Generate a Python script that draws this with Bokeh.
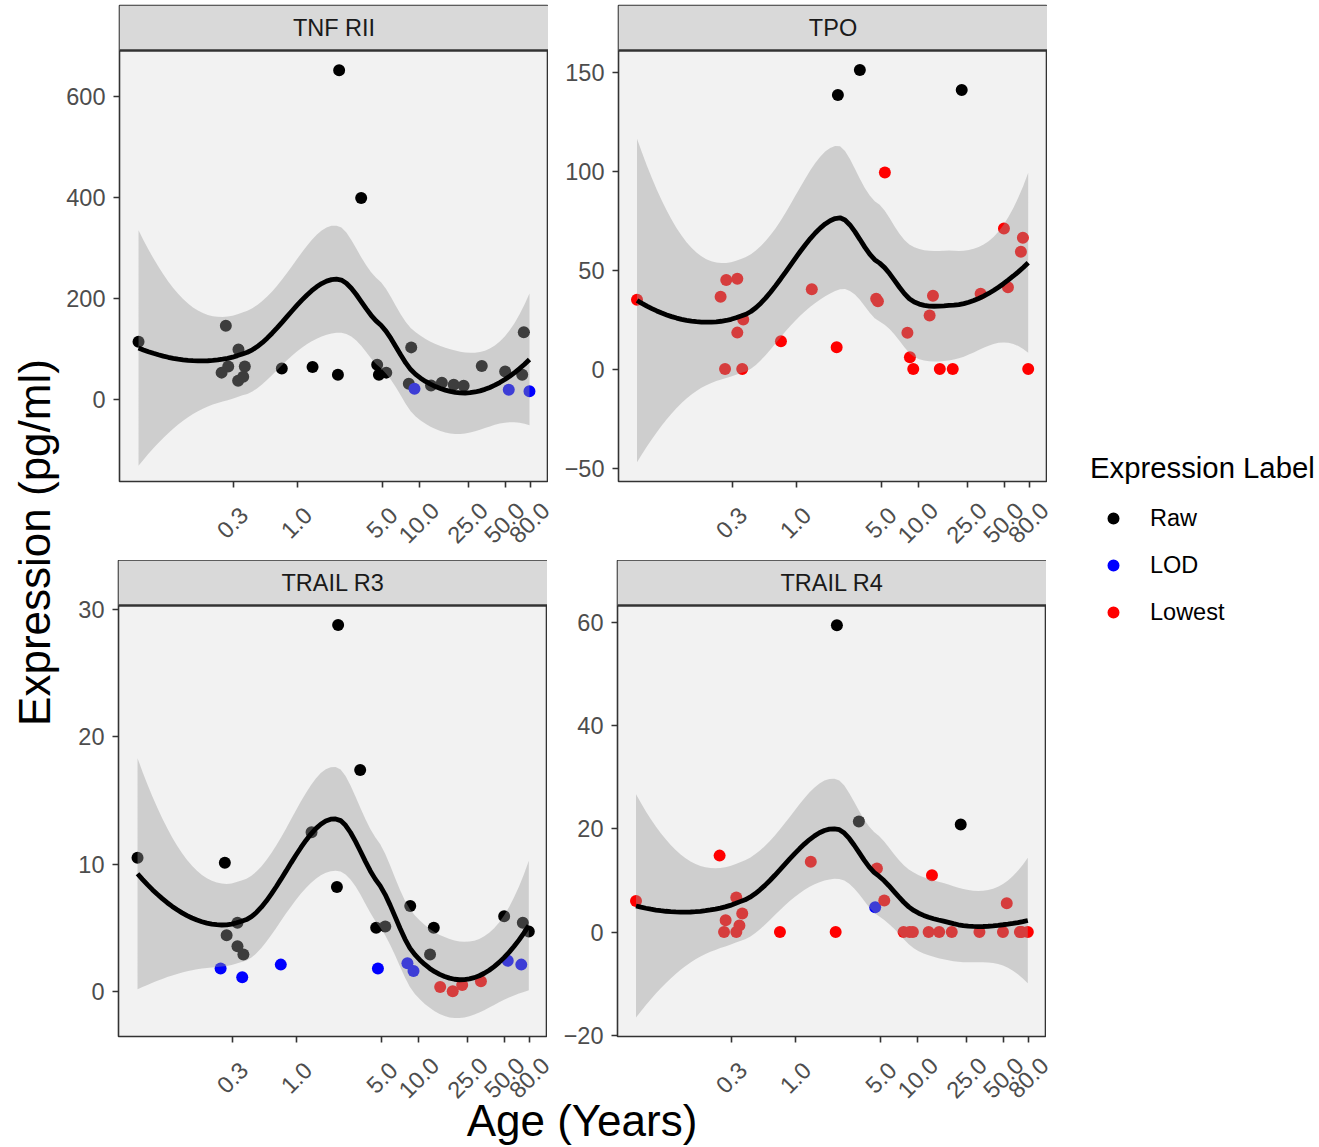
import math
import numpy as np
from bokeh.plotting import figure
from bokeh.models import (Range1d, FixedTicker, CustomJSTickFormatter, ColumnDataSource,
                          Legend, LegendItem, LogScale, LinearScale, Span)
from bokeh.layouts import row, column
from bokeh.transform import factor_cmap
from bokeh.core.properties import value
from bokeh.embed import file_html
from bokeh.resources import INLINE

FONT = "Liberation Sans"
LABELS = ["Raw", "LOD", "Lowest"]
LABEL_COLORS = ["#000000", "#0000FF", "#FF0000"]
X_TICKS = [0.3, 1.0, 5.0, 10.0, 25.0, 50.0, 80.0]
PANEL_TITLES = ["TNF RII", "TPO", "TRAIL R3", "TRAIL R4"]

# ---- TNF RII ----
tnf_age = [0.0505, 0.261, 0.331, 0.273, 0.241, 0.373, 0.329, 0.362, 0.748, 1.334,
           2.20, 2.15, 3.33, 4.50, 4.65, 5.34, 8.54, 8.16, 9.08, 12.4,
           15.2, 19.0, 22.9, 32.2, 50.0, 53.5, 71.0, 68.9, 79.0]
tnf_val = [115, 147, 100, 66, 54, 66, 38, 46, 62, 65,
           653, 50, 400, 69.5, 50, 54, 104, 32, 22, 28.5,
           34, 30, 28, 67, 56, 20, 134, 50, 17]
tnf_lab = ["Raw"] * 18 + ["LOD"] + ["Raw"] * 6 + ["LOD"] + ["Raw", "Raw", "LOD"]

# ---- TPO ----
tpo_age = [0.050, 0.268, 0.330, 0.241, 0.369, 0.330, 0.262, 0.362, 0.75, 1.34,
           2.19, 2.14, 3.31, 5.3, 4.5, 4.65, 8.1, 8.49, 9.04, 12.3,
           13.1, 14.9, 19.0, 22.5, 32.1, 49.8, 53.7, 71.1, 68.5, 78.6]
tpo_val = [35, 45, 45.6, 36.5, 25, 18.4, 0, 0, 14, 40.3,
           138.4, 11, 151, 99.3, 35.5, 34.3, 18.3, 6, 0, 27,
           37, 0, 0, 141, 38, 71, 41.3, 66.3, 59.2, 0]
tpo_lab = ["Lowest"] * 10 + ["Raw", "Lowest", "Raw"] + ["Lowest"] * 10 + ["Raw"] + ["Lowest"] * 6

# ---- TRAIL R3 ----
r3_age = [0.0505, 0.261, 0.331, 0.270, 0.331, 0.370, 0.241, 0.362, 0.748, 1.334,
          2.20, 2.15, 3.33, 4.50, 5.34, 4.65, 8.54, 8.1, 9.08, 13.3,
          12.4, 15.0, 19.0, 22.7, 32.3, 50.0, 53.5, 71.0, 69.0, 79.5]
r3_val = [10.5, 10.1, 5.4, 4.4, 3.55, 2.9, 1.8, 1.1, 2.1, 12.5,
          28.8, 8.2, 17.4, 5.0, 5.1, 1.8, 6.7, 2.2, 1.6, 5.0,
          2.9, 0.35, 0.0, 0.5, 0.8, 5.9, 2.4, 5.4, 2.1, 4.7]
r3_lab = ["Raw"] * 6 + ["LOD"] * 3 + ["Raw"] * 6 + ["LOD", "Raw", "LOD", "LOD", "Raw",
          "Raw", "Lowest", "Lowest", "Lowest", "Lowest", "Raw", "LOD", "Raw", "LOD", "Raw"]

# ---- TRAIL R4 ----
r4_age = [0.050, 0.241, 0.330, 0.270, 0.369, 0.350, 0.262, 0.330, 0.75, 1.34,
          2.19, 2.14, 3.31, 4.65, 4.5, 5.34, 7.68, 8.6, 9.15, 13.1,
          12.3, 15.0, 19.0, 22.5, 32.0, 49.8, 53.5, 68.5, 71.0, 79.5]
r4_val = [6.0, 14.8, 6.7, 2.3, 3.6, 1.3, 0, 0, 0, 13.6,
          59.4, 0, 21.4, 12.3, 4.8, 6.1, 0, 0, 0, 11.0,
          0, 0, 0, 20.8, 0, 0, 5.6, 0, 0, 0]
r4_lab = ["Lowest"] * 10 + ["Raw", "Lowest", "Raw", "Lowest", "LOD"] + ["Lowest"] * 8 + ["Raw"] + ["Lowest"] * 6

# axis limits
X_LIM = (0.0353, 113.0)
Y_LIMS = [(-161.6, 691.9), (-56.8, 160.9), (-3.55, 30.33), (-20.2, 63.2)]
Y_TICKS = [[0, 200, 400, 600], [-50, 0, 50, 100, 150], [0, 10, 20, 30], [-20, 0, 20, 40, 60]]

# layout geometry (pixels)
PANEL_W = 429
PANEL_H = 431
STRIP_H = 45
LEFT_COL = 63
BORDER_L = [55, 70]
ROW_W = 997  # width of the tick-label rows


def loess_band(age, val, n_out=80, span=0.75, cell=0.2):
    """loess (degree 2, span 0.75, kd-tree vertices + cubic Hermite interpolation,
    as R's default surface) on log10(age), with the 95% confidence band."""
    x = np.log10(np.asarray(age, float))
    y = np.asarray(val, float)
    n = len(x)
    q = int(math.floor(n * span))
    fc = int(math.floor(n * span * cell))
    xsrt = np.sort(x)
    lo, hi = xsrt[0], xsrt[-1]
    mu = 0.005 * (hi - lo)
    verts = [lo - mu, hi + mu]
    stack = [(0, n - 1, lo - mu, hi + mu)]
    while stack:
        l, u, vlo, vhi = stack.pop()
        if u - l + 1 <= fc:
            continue
        m = (l + u) // 2
        off = 0
        while l <= m + off < u:
            if xsrt[m + off] == xsrt[m + off + 1]:
                off = -off
                if off >= 0:
                    off += 1
            else:
                m = m + off
                break
        xi = xsrt[m]
        if xi == vlo or xi == vhi:
            continue
        verts.append(xi)
        stack.append((l, m, vlo, xi))
        stack.append((m + 1, u, xi, vhi))
    verts = np.array(sorted(verts))

    def local_rows(x0):
        d = np.abs(x - x0)
        h = np.sort(d)[q - 1]
        u = np.clip(d / h, 0, 1)
        w = (1 - u ** 3) ** 3
        X = np.column_stack([np.ones(n), x - x0, (x - x0) ** 2])
        XtW = X.T * w
        B = np.linalg.pinv(XtW @ X) @ XtW
        return B[0], B[1]

    V0, V1 = [], []
    for v in verts:
        r0, r1 = local_rows(v)
        V0.append(r0)
        V1.append(r1)
    V0 = np.array(V0)
    V1 = np.array(V1)

    def op_row(z):
        i = int(np.clip(np.searchsorted(verts, z) - 1, 0, len(verts) - 2))
        a, b = verts[i], verts[i + 1]
        hh = b - a
        t = (z - a) / hh
        phi0 = (1 - t) ** 2 * (1 + 2 * t)
        phi1 = t ** 2 * (3 - 2 * t)
        psi0 = t * (1 - t) ** 2
        psi1 = -t ** 2 * (1 - t)
        return phi0 * V0[i] + phi1 * V0[i + 1] + (psi0 * V1[i] + psi1 * V1[i + 1]) * hh

    L = np.array([op_row(v) for v in x])
    res = y - L @ y
    IL = np.eye(n) - L
    M = IL.T @ IL
    d1 = np.trace(M)
    d2 = np.trace(M @ M)
    sigma = math.sqrt(np.sum(res ** 2) / d1)
    df = d1 * d1 / d2
    xs = np.linspace(lo, hi, n_out)
    Ls = np.array([op_row(v) for v in xs])
    fit = Ls @ y
    se = sigma * np.sqrt(np.sum(Ls ** 2, axis=1))
    z = 1.959963984540054
    tq = (z + (z ** 3 + z) / (4 * df) + (5 * z ** 5 + 16 * z ** 3 + 3 * z) / (96 * df ** 2)
          + (3 * z ** 7 + 19 * z ** 5 + 17 * z ** 3 - 15 * z) / (384 * df ** 3))
    return 10 ** xs, fit, fit - tq * se, fit + tq * se


def make_panel(idx, age, val, lab, title, border_left, border_top, border_bottom):
    y_lo, y_hi = Y_LIMS[idx]
    units_per_px = (y_hi - y_lo) / PANEL_H
    strip_top = y_hi + STRIP_H * units_per_px  # facet strip sits on top of the panel
    p = figure(x_axis_type="log", x_range=Range1d(*X_LIM), y_range=Range1d(y_lo, strip_top),
               frame_width=PANEL_W, frame_height=PANEL_H + STRIP_H,
               min_border_left=border_left, min_border_bottom=border_bottom,
               min_border_top=border_top, min_border_right=0,
               toolbar_location=None, output_backend="svg")
    p.grid.visible = False
    p.background_fill_color = "#f2f2f2"
    p.border_fill_color = "white"
    p.outline_line_color = "#333333"
    p.outline_line_width = 1.6

    # facet strip
    p.quad(left=[X_LIM[0]], right=[X_LIM[1]], bottom=[y_hi], top=[strip_top],
           fill_color="#d9d9d9", line_color=None)
    p.add_layout(Span(location=y_hi, dimension="width", line_color="#333333", line_width=2.4))
    p.text(x=[math.sqrt(X_LIM[0] * X_LIM[1])], y=[(y_hi + strip_top) / 2], text=[title],
           text_align="center", text_baseline="middle",
           text_font=value(FONT), text_font_size="23.5px", text_color="#1a1a1a")

    src = ColumnDataSource(dict(age=age, val=val, lab=lab))
    p.scatter("age", "val", source=src, size=12, line_color=None,
              fill_color=factor_cmap("lab", palette=LABEL_COLORS, factors=LABELS))

    xs, fit, lo, hi = loess_band(age, val)
    p.varea(x=xs, y1=lo, y2=hi, fill_color="#999999", fill_alpha=0.4)
    p.line(xs, fit, line_color="black", line_width=4.8)

    for ax in (p.xaxis[0], p.yaxis[0]):
        ax.axis_line_color = None
        ax.major_tick_out = 6
        ax.major_tick_in = 0
        ax.major_tick_line_color = "#333333"
        ax.major_tick_line_width = 1.6
        ax.minor_tick_line_color = None
        ax.major_label_text_font = FONT
        ax.major_label_text_font_size = "23.5px"
        ax.major_label_text_color = "#4d4d4d"
        ax.major_label_standoff = 8
    p.xaxis.ticker = FixedTicker(ticks=X_TICKS)
    # x tick labels are drawn (rotated, centred on the ticks) in the rows below
    p.xaxis.formatter = CustomJSTickFormatter(code="return ''")
    p.xaxis.major_label_standoff = 0
    p.yaxis.ticker = FixedTicker(ticks=Y_TICKS[idx])
    p.yaxis.major_label_overrides = {t: ("\u2212" + str(-t)) for t in Y_TICKS[idx] if t < 0}
    return p


# log-scale x ranges for a label row whose frame spans LEFT_COL .. LEFT_COL+ROW_W
K = math.log10(X_LIM[1] / X_LIM[0]) / PANEL_W
P1_LEFT = BORDER_L[0]
P2_LEFT = BORDER_L[0] + PANEL_W + BORDER_L[1]


def row_range(panel_left):
    lo = math.log10(X_LIM[0]) - panel_left * K
    hi = math.log10(X_LIM[1]) + (ROW_W - panel_left - PANEL_W) * K
    return Range1d(10 ** lo, 10 ** hi)


def label_row(h, label_y, title=None, title_y=None):
    f = figure(x_axis_type="log", x_range=row_range(P1_LEFT), y_range=Range1d(0, h),
               extra_x_ranges={"right": row_range(P2_LEFT), "px": Range1d(0, ROW_W)},
               extra_x_scales={"right": LogScale(), "px": LinearScale()},
               frame_width=ROW_W, frame_height=h, min_border=0,
               x_axis_location=None, y_axis_location=None,
               toolbar_location=None, output_backend="svg")
    f.grid.visible = False
    f.outline_line_color = None
    f.background_fill_color = "white"
    f.border_fill_color = "white"
    tick_text = [f"{t:.1f}" for t in X_TICKS]
    for rname in ("default", "right"):
        f.text(x=X_TICKS, y=[label_y] * len(X_TICKS), text=tick_text, angle=math.pi / 4,
               text_align="center", text_baseline="middle", x_range_name=rname,
               text_font=value(FONT), text_font_size="23.5px", text_color="#4d4d4d")
    if title is not None:
        f.text(x=[581.5 - LEFT_COL], y=[title_y], text=[title], x_range_name="px",
               text_align="center", text_baseline="middle",
               text_font=value(FONT), text_font_size="44px", text_color="black")
    return f


p1 = make_panel(0, tnf_age, tnf_val, tnf_lab, PANEL_TITLES[0], BORDER_L[0], 5, 10)
p2 = make_panel(1, tpo_age, tpo_val, tpo_lab, PANEL_TITLES[1], BORDER_L[1], 5, 10)
p3 = make_panel(2, r3_age, r3_val, r3_lab, PANEL_TITLES[2], BORDER_L[0], 0, 16)
p4 = make_panel(3, r4_age, r4_val, r4_lab, PANEL_TITLES[3], BORDER_L[1], 0, 16)

lab1 = label_row(69, 38)
lab2 = label_row(95, 70, title="Age (Years)", title_y=27)


def blank(w, h):
    f = figure(frame_width=w, frame_height=h, x_range=Range1d(0, w), y_range=Range1d(0, h),
               min_border=0, x_axis_location=None, y_axis_location=None,
               toolbar_location=None, output_backend="svg")
    f.grid.visible = False
    f.outline_line_color = None
    f.background_fill_color = "white"
    f.border_fill_color = "white"
    return f


# y axis title
yt = blank(LEFT_COL, 1147)
yt.text(x=[34], y=[605], text=["Expression (pg/ml)"], angle=math.pi / 2,
        text_align="center", text_baseline="middle",
        text_font=value(FONT), text_font_size="44px", text_color="black")

# legend
LG_W = 1319 - LEFT_COL - ROW_W
lg = blank(LG_W, 1147)
items = []
for lab_name, col in zip(LABELS, LABEL_COLORS):
    r = lg.scatter(x=np.array([np.nan]), y=np.array([np.nan]), size=12, fill_color=col, line_color=None)
    items.append(LegendItem(label=lab_name, renderers=[r]))
legend = Legend(items=items, location=(1090 - (LEFT_COL + ROW_W), 520), title="Expression Label",
                title_text_font=FONT, title_text_font_size="29.3px", title_text_color="black",
                title_text_font_style="normal", title_standoff=18,
                label_text_font=FONT, label_text_font_size="23.5px", label_text_color="black",
                glyph_width=46, glyph_height=30, label_height=30, label_standoff=14,
                spacing=17, padding=0, margin=0,
                border_line_color=None, background_fill_alpha=0)
lg.add_layout(legend)

grid = column(row(p1, p2), lab1, row(p3, p4), lab2)
layout = row(yt, grid, lg)

open("out.html", "w").write(file_html(layout, INLINE))
